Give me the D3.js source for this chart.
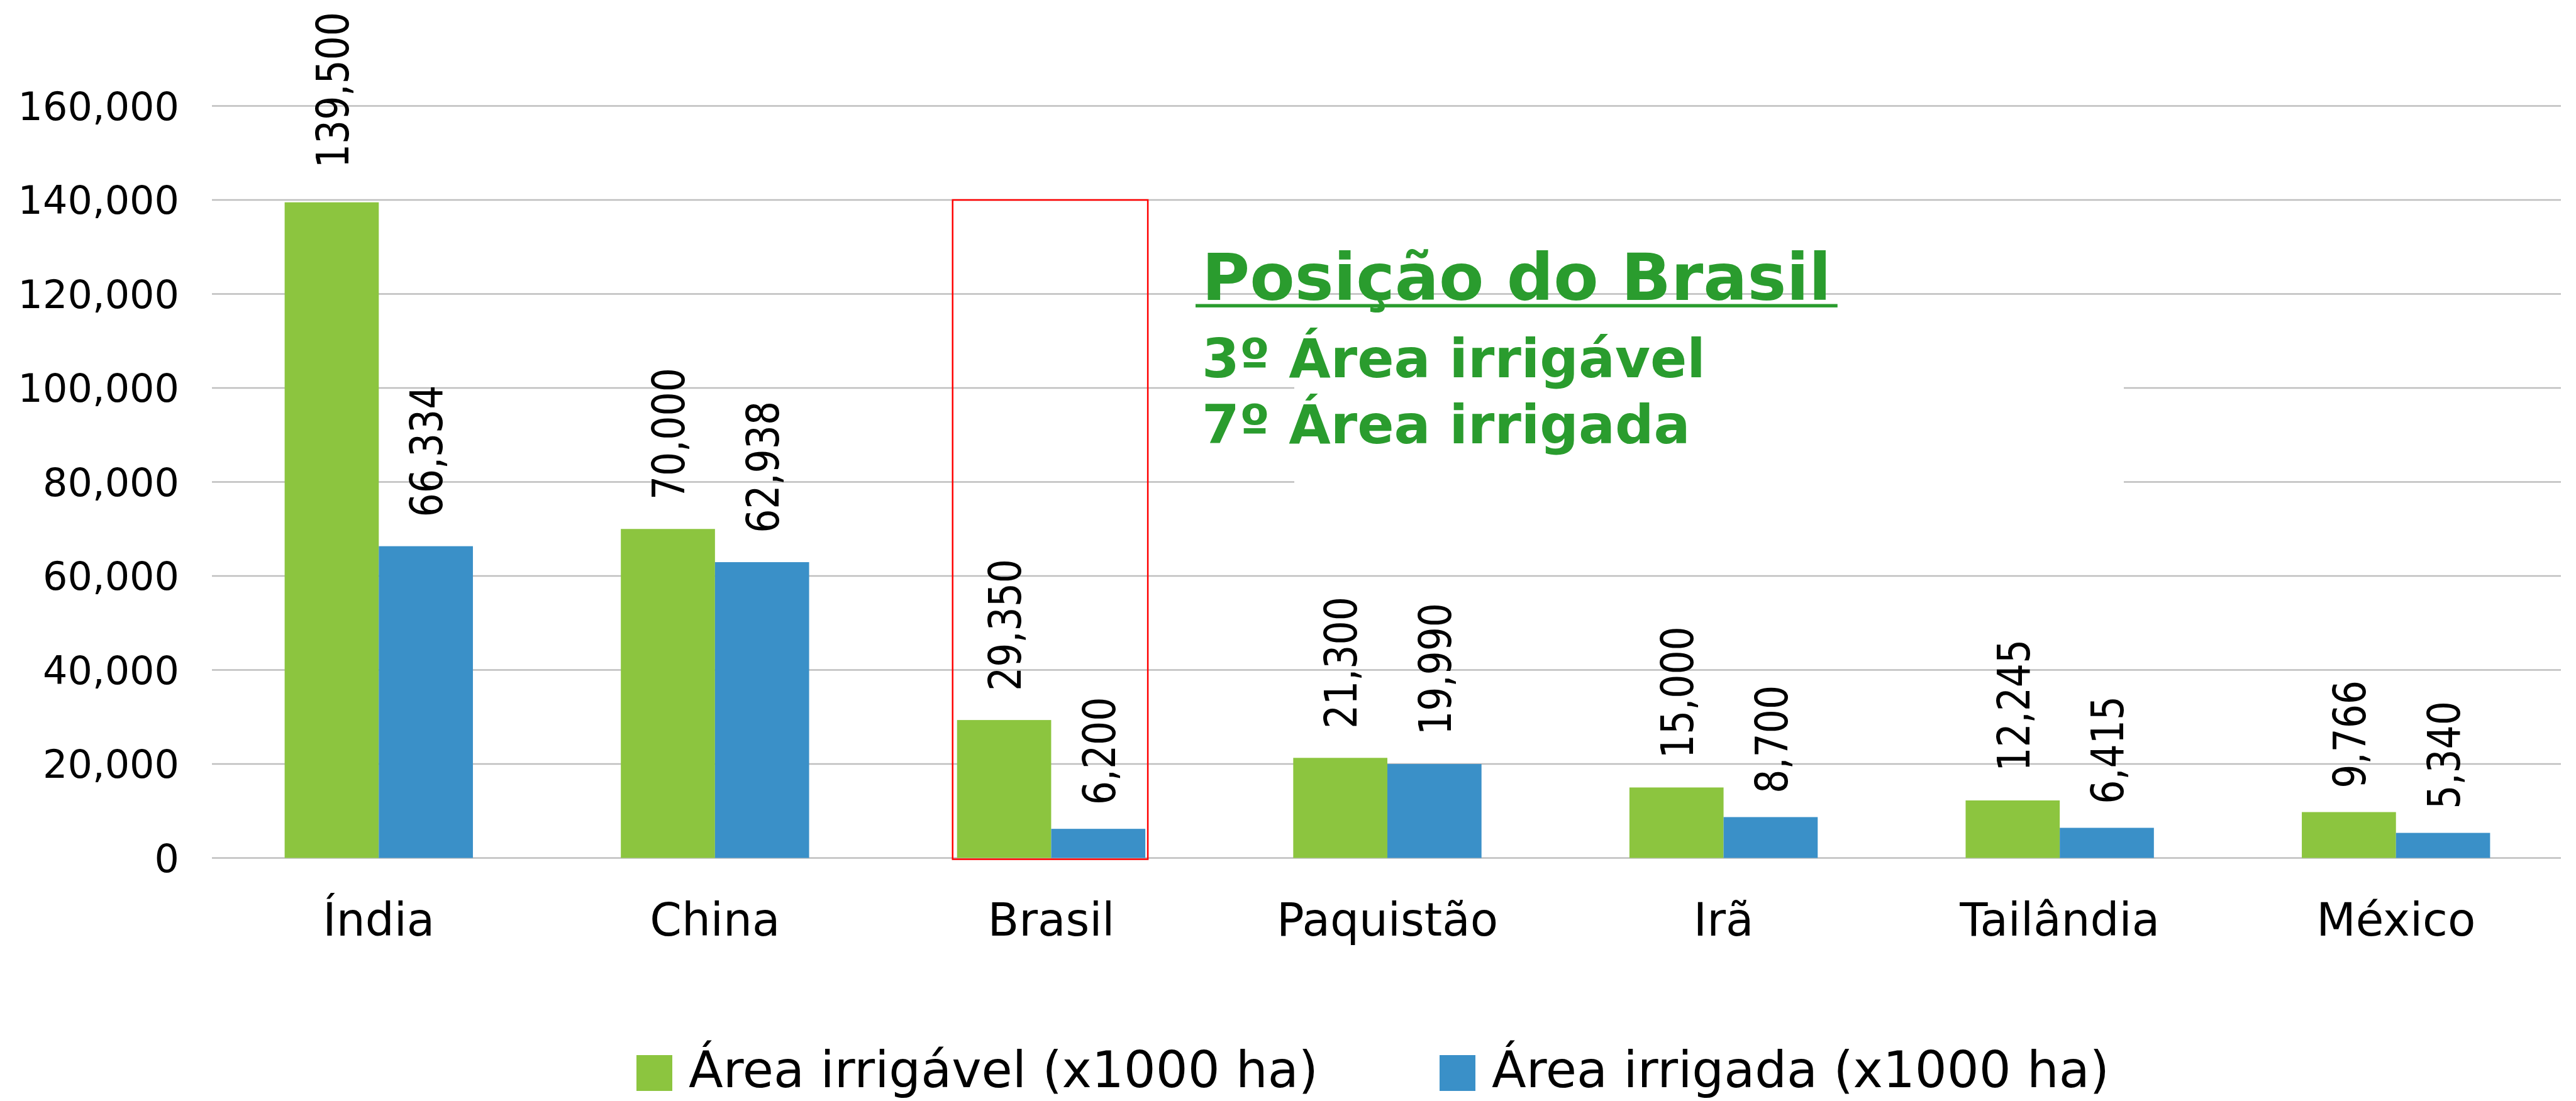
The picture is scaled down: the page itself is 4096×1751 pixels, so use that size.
<!DOCTYPE html>
<html>
<head>
<meta charset="utf-8">
<script src="https://cdn.jsdelivr.net/npm/d3@7"></script>
<style>
  html, body { margin: 0; padding: 0; background: #ffffff; }
  svg { display: block; }
</style>
</head>
<body>
<script>
// ---- Data ----
const categories = ["Índia", "China", "Brasil", "Paquistão", "Irã", "Tailândia", "México"];
const irrigavel = [139500, 70000, 29350, 21300, 15000, 12245, 9766];
const irrigada = [66334, 62938, 6200, 19990, 8700, 6415, 5340];
const seriesNames = ["Área irrigável (x1000 ha)", "Área irrigada (x1000 ha)"];
const seriesColors = ["#8cc53f", "#3a90c8"];
const yTicks = [0, 20000, 40000, 60000, 80000, 100000, 120000, 140000, 160000];
const annotationTitle = "Posição do Brasil";
const annotationLines = ["3º Área irrigável", "7º Área irrigada"];
const highlightCategory = "Brasil";

// ---- Layout ----
const W = 4096, H = 1751;
const svg = d3.select("body").append("svg").attr("width", W).attr("height", H);
const FONT = "'DejaVu Sans', Verdana, sans-serif";

const x = d3.scaleBand().domain(categories).range([335, 4077]).padding(0);
const y = d3.scaleLinear().domain([0, 160000]).range([1364.5, 168.5]);
const barW = x.bandwidth() * 0.28;
const fmt = d3.format(",");

// gridlines
svg.append("g").selectAll("line").data(yTicks).join("line")
  .attr("x1", 337).attr("x2", 4072)
  .attr("y1", d => y(d)).attr("y2", d => y(d))
  .attr("stroke", "#bfbfbf").attr("stroke-width", 2.7);

// y axis labels
svg.append("g").selectAll("text").data(yTicks).join("text")
  .attr("x", 285).attr("y", d => y(d)).attr("dy", "0.36em")
  .attr("text-anchor", "end")
  .attr("font-family", FONT).attr("font-size", 62).attr("fill", "#000")
  .text(d => fmt(d));

// white annotation box (covers gridlines)
svg.append("rect").attr("x", 2058).attr("y", 520).attr("width", 3377 - 2058).attr("height", 870 - 520)
  .attr("fill", "#ffffff");

// bars
const data = categories.map((c, i) => ({ c, v: [irrigavel[i], irrigada[i]] }));
const groups = svg.append("g").selectAll("g").data(data).join("g");
[0, 1].forEach(s => {
  groups.append("rect")
    .attr("x", d => x(d.c) + x.bandwidth() / 2 - barW + s * barW)
    .attr("y", d => y(d.v[s]))
    .attr("width", barW)
    .attr("height", d => y(0) - y(d.v[s]))
    .attr("fill", seriesColors[s]);
});

// data labels (rotated)
[0, 1].forEach(s => {
  groups.append("text")
    .attr("font-family", FONT).attr("font-size", 60).attr("fill", "#000")
    .attr("dy", "0.365em")
    .text(d => fmt(d.v[s]))
    .each(function (d) {
      const len = this.getComputedTextLength();
      const cx = x(d.c) + x.bandwidth() / 2 - barW / 2 + s * barW;
      const yb = y(d.v[s]) - 0.22 * len;
      d3.select(this).attr("transform", `translate(${cx},${yb}) rotate(-90) scale(1,1.2)`);
    });
});

// category labels
svg.append("g").selectAll("text").data(categories).join("text")
  .attr("x", d => x(d) + x.bandwidth() / 2).attr("y", 1488)
  .attr("text-anchor", "middle")
  .attr("font-family", FONT).attr("font-size", 72.5).attr("fill", "#000")
  .text(d => d);

// highlight box around Brasil
svg.append("rect")
  .attr("x", x(highlightCategory) + x.bandwidth() / 2 - barW - 7)
  .attr("y", y(140000))
  .attr("width", 2 * barW + 11)
  .attr("height", y(0) - y(140000) + 2)
  .attr("fill", "none").attr("stroke", "#ff0000").attr("stroke-width", 2.5);

// annotation text
const green = "#2a9c2e";
const t1 = svg.append("text").attr("x", 1911).attr("y", 477)
  .attr("font-family", FONT).attr("font-weight", "bold").attr("font-size", 104)
  .attr("fill", green).text(annotationTitle);
const tw = t1.node().getComputedTextLength();
svg.append("rect").attr("x", 1901).attr("y", 483.5).attr("width", tw + 20).attr("height", 5.4).attr("fill", green);
svg.append("g").selectAll("text").data(annotationLines).join("text")
  .attr("x", 1911).attr("y", (d, i) => 600 + i * 104.5)
  .attr("font-family", FONT).attr("font-weight", "bold").attr("font-size", 86)
  .attr("fill", green).text(d => d);

// legend
const legendX = [1012, 2289];
const lg = svg.append("g").selectAll("g").data(seriesNames).join("g");
lg.append("rect").attr("x", (d, i) => legendX[i]).attr("y", 1678).attr("width", 57).attr("height", 57)
  .attr("fill", (d, i) => seriesColors[i]);
lg.append("text").attr("x", (d, i) => legendX[i] + 83).attr("y", 1729)
  .attr("font-family", FONT).attr("font-size", 80).attr("fill", "#000")
  .text(d => d);
</script>
</body>
</html>
